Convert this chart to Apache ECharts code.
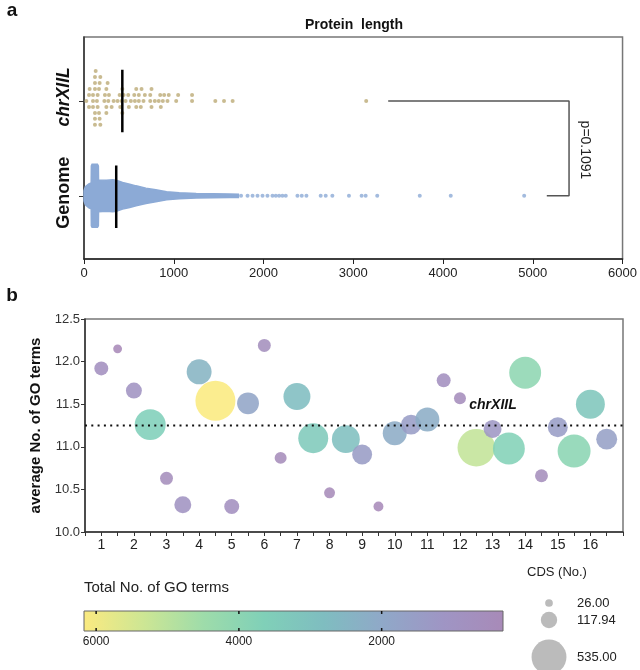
<!DOCTYPE html>
<html>
<head>
<meta charset="utf-8">
<script src="https://cdn.jsdelivr.net/npm/echarts@6/dist/echarts.min.js"></script>
<style>
  html, body { margin: 0; padding: 0; background: #fff; }
  #chart { width: 640px; height: 670px; }
</style>
</head>
<body>
<div id="chart"></div>
<script>
// ---- panel a: protein length ----
const lengthTicks = [0, 1000, 2000, 3000, 4000, 5000, 6000];
// chrXIIL protein lengths (aa), one per dot
const chrLengths = [
  122, 182, 122, 167, 167, 249, 308,
  26, 100, 152, 249, 427, 582, 633, 752, 833,
  63, 100, 144, 249, 427, 500, 560, 663, 738, 878, 944,
  56, 100, 152, 227, 278, 330, 397, 441, 611, 678, 738, 789, 849, 893, 1027,
  122, 174, 233, 374, 419, 463, 522, 567, 611, 752, 856, 930, 1049,
  56, 122, 263, 404, 493, 582, 641,
  122, 174, 271, 122, 130, 182,
  1204, 1204, 1463, 1560, 1656, 3144
];
const chrMedian = 427;
const genomeMedian = 359;
// outline of the dense genome swarm: length (aa) and half spread (y units)
const genomeEnvLen = [0, 15, 55, 80, 82, 90, 150, 160, 162, 250, 320, 360, 430, 510, 580, 690, 800, 920, 1060, 1250, 1620, 1720];
const genomeEnvHalf = [0.053, 0.095, 0.126, 0.137, 0.316, 0.332, 0.332, 0.316, 0.168, 0.163, 0.168, 0.163, 0.14, 0.123, 0.105, 0.081, 0.063, 0.042, 0.032, 0.024, 0.019, 0.017];
// sparse genome proteins in the long tail
const genomeTail = [1750, 1822, 1878, 1933, 1989, 2044, 2100, 2137, 2174, 2211, 2248, 2378, 2426, 2478, 2637, 2693, 2767, 2952, 3093, 3138, 3267, 3741, 4086, 4904];
const bracketLen = [3389, 5404, 5156];
const pText = 'p=0.1091';

// ---- panel b: GO terms per chromosome arm ----
const chrLabels = ['1', '2', '3', '4', '5', '6', '7', '8', '9', '10', '11', '12', '13', '14', '15', '16'];
const armPos = [1, 1.5, 2, 2.5, 3, 3.5, 4, 4.5, 5, 5.5, 6, 6.5, 7, 7.5, 8, 8.5,
  9, 9.5, 10, 10.5, 11, 11.5, 12, 12.5, 13, 13.5, 14, 14.5, 15, 15.5, 16, 16.5];
const avgGO = [11.92, 12.15, 11.66, 11.26, 10.63, 10.32, 11.88, 11.54, 10.30, 11.51, 12.19, 10.87, 11.59, 11.10, 10.46, 11.09,
  10.91, 10.30, 11.16, 11.26, 11.32, 11.78, 11.57, 10.99, 11.21, 10.98, 11.87, 10.66, 11.23, 10.95, 11.50, 11.09];
const cdsCount = [65, 26, 85, 320, 56, 96, 208, 535, 75, 160, 56, 48, 243, 300, 40, 260,
  133, 33, 192, 133, 192, 65, 48, 470, 108, 340, 340, 56, 133, 363, 280, 147];
const totalGO = [775, 316, 990, 3600, 595, 990, 2470, 6170, 770, 1840, 680, 520, 2820, 3330, 420, 2890,
  1450, 340, 2140, 1500, 2170, 770, 555, 5160, 1210, 3730, 4040, 600, 1490, 3970, 3220, 1630];
const genomeAvgGO = 11.25;
const colorTicks = [6000, 4000, 2000];
const sizeTicks = [26, 117.94, 535];

const FONT = '"Liberation Sans", Arial, sans-serif';
const colorMin = 300, colorMax = 6170;
const palette = ['#a88ab8', '#9f95c4', '#90a8c8', '#7fbdc0', '#80d0b8', '#9edcaa', '#cde694', '#fbea80'];
const sizeOf = n => 1.73 * Math.sqrt(n);
const legendSizeOf = n => 1.51 * Math.sqrt(n);

// simple beeswarm: stack dots into rows so they do not overlap
function swarm(values, center, w, step) {
  const rows = {};
  const out = [];
  values.slice().sort((a, b) => a - b).forEach(v => {
    for (let k = 0; ; k++) {
      const r = k === 0 ? 0 : (k % 2 ? (k + 1) / 2 : -k / 2);
      const list = rows[r] || (rows[r] = []);
      if (list.every(u => Math.abs(u - v) >= w)) {
        list.push(v);
        out.push([v, center + r * step]);
        break;
      }
    }
  });
  return out;
}

const chart = echarts.init(document.getElementById('chart'));

// colour bar + size legend
const barL = 84, barR = 503, barT = 611, barB = 631;
const toBarX = v => barL + (colorMax - v) / (colorMax - colorMin) * (barR - barL);
const stops = palette.map((c, i) => ({ offset: 1 - i / (palette.length - 1), color: c })).reverse();
const legendGraphics = [
  { type: 'text', x: 84, y: 588, style: { text: 'Total No. of GO terms', font: '15px ' + FONT, fill: '#222', verticalAlign: 'middle' } },
  { type: 'rect', shape: { x: barL, y: barT, width: barR - barL, height: barB - barT },
    style: { fill: new echarts.graphic.LinearGradient(0, 0, 1, 0, stops), stroke: '#666', lineWidth: 1 } }
];
colorTicks.forEach(v => {
  const x = toBarX(v);
  legendGraphics.push({ type: 'line', shape: { x1: x, y1: barT, x2: x, y2: barT + 3 }, style: { stroke: '#111', lineWidth: 1.5 } });
  legendGraphics.push({ type: 'line', shape: { x1: x, y1: barB - 3, x2: x, y2: barB }, style: { stroke: '#111', lineWidth: 1.5 } });
  legendGraphics.push({ type: 'text', x: x, y: 642, style: { text: String(v), font: '12px ' + FONT, fill: '#222', align: 'center', verticalAlign: 'middle' } });
});
legendGraphics.push({ type: 'text', x: 527, y: 572, style: { text: 'CDS (No.)', font: '13px ' + FONT, fill: '#222', verticalAlign: 'middle' } });
const sizeRowY = [603, 620, 657];
sizeTicks.forEach((n, i) => {
  legendGraphics.push({ type: 'circle', shape: { cx: 549, cy: sizeRowY[i], r: legendSizeOf(n) / 2 }, style: { fill: '#bbbbbb' } });
  legendGraphics.push({ type: 'text', x: 577, y: sizeRowY[i], style: { text: n.toFixed(2), font: '13px ' + FONT, fill: '#222', verticalAlign: 'middle' } });
});

const option = {
  animation: false,
  textStyle: { fontFamily: FONT },
  grid: [
    { left: 84, right: 16, top: 37, height: 222, show: true, borderColor: '#777', borderWidth: 1.5 },
    { left: 85, right: 17, top: 319, height: 213, show: true, borderColor: '#777', borderWidth: 1.5 }
  ],
  xAxis: [
    {
      type: 'value', gridIndex: 0, min: lengthTicks[0], max: lengthTicks[lengthTicks.length - 1], interval: 1000,
      axisLine: { onZero: false, lineStyle: { color: '#222', width: 1.5 } },
      axisTick: { length: 5, lineStyle: { color: '#222' } },
      axisLabel: { color: '#222', fontSize: 13, margin: 8, formatter: v => String(v) },
      splitLine: { show: false }
    },
    {
      type: 'value', gridIndex: 1, min: 0.5, max: 17, interval: 0.5,
      axisLine: { onZero: false, lineStyle: { color: '#333', width: 1.5 } },
      axisTick: { length: 4, lineStyle: { color: '#333' } },
      axisLabel: {
        color: '#222', fontSize: 14, margin: 6, interval: 0, showMinLabel: true, showMaxLabel: true,
        formatter: v => (Number.isInteger(v) && v >= 1 && v <= chrLabels.length) ? chrLabels[v - 1] : ''
      },
      splitLine: { show: false }
    }
  ],
  yAxis: [
    {
      type: 'value', gridIndex: 0, min: -0.666, max: 1.674,
      axisLine: { show: true, onZero: false, lineStyle: { color: '#333', width: 1.5 } },
      axisTick: { show: true, length: 5, customValues: [0, 1], lineStyle: { color: '#333' } },
      axisLabel: {
        customValues: [0, 1], rotate: 90, margin: 11, color: '#111',
        formatter: v => v === 1 ? '{i|chrXIIL}' : '{n|Genome}',
        rich: {
          i: { fontStyle: 'italic', fontWeight: 'bold', fontSize: 17.5, fontFamily: FONT, color: '#111', padding: [0, 0, 0, 8] },
          n: { fontWeight: 'bold', fontSize: 18, fontFamily: FONT, color: '#111', padding: [0, 0, 0, 6] }
        }
      },
      splitLine: { show: false }
    },
    {
      type: 'value', gridIndex: 1, min: 10, max: 12.5, interval: 0.5,
      name: 'average No. of GO terms', nameLocation: 'middle', nameGap: 42,
      nameTextStyle: { fontWeight: 'bold', fontSize: 15, color: '#111' },
      axisLine: { show: true, onZero: false, lineStyle: { color: '#333', width: 1.5 } },
      axisTick: { show: true, length: 4, lineStyle: { color: '#333' } },
      axisLabel: { color: '#333', fontSize: 13, margin: 5, formatter: v => v.toFixed(1) },
      splitLine: { show: false }
    }
  ],
  visualMap: {
    show: false, type: 'continuous', seriesIndex: 7, dimension: 3,
    min: colorMin, max: colorMax, inRange: { color: palette }
  },
  series: [
    {
      type: 'scatter', xAxisIndex: 0, yAxisIndex: 0, symbolSize: 4,
      itemStyle: { color: '#bcaa76' },
      data: swarm(chrLengths, 1, 44, 0.063)
    },
    {
      type: 'custom', xAxisIndex: 0, yAxisIndex: 0, data: [[0, 0]],
      renderItem: function (params, api) {
        const top = genomeEnvLen.map((v, i) => api.coord([v, genomeEnvHalf[i]]));
        const bottom = genomeEnvLen.map((v, i) => api.coord([v, -genomeEnvHalf[i]])).reverse();
        return {
          type: 'polygon', shape: { points: top.concat(bottom), smooth: 0 },
          style: { fill: '#8caad6', stroke: '#8caad6', lineWidth: 1.5 }
        };
      }
    },
    {
      type: 'scatter', xAxisIndex: 0, yAxisIndex: 0, symbolSize: 4,
      itemStyle: { color: '#8caad6' },
      data: genomeTail.map(v => [v, 0])
    },
    {
      type: 'line', xAxisIndex: 0, yAxisIndex: 0, symbol: 'none', z: 4,
      lineStyle: { color: '#000', width: 2.5 },
      data: [[chrMedian, 0.67], [chrMedian, 1.33]]
    },
    {
      type: 'line', xAxisIndex: 0, yAxisIndex: 0, symbol: 'none', z: 4,
      lineStyle: { color: '#000', width: 2.5 },
      data: [[genomeMedian, -0.34], [genomeMedian, 0.32]]
    },
    {
      type: 'line', xAxisIndex: 0, yAxisIndex: 0, symbol: 'none',
      lineStyle: { color: '#555', width: 1.5 },
      data: [[bracketLen[0], 1], [bracketLen[1], 1], [bracketLen[1], 0], [bracketLen[2], 0]]
    },
    {
      type: 'line', xAxisIndex: 1, yAxisIndex: 1, symbol: 'none', z: 5,
      lineStyle: { color: '#111', width: 2.2, type: [2, 4.3] },
      data: [[0.5, genomeAvgGO], [17, genomeAvgGO]]
    },
    {
      type: 'scatter', xAxisIndex: 1, yAxisIndex: 1, z: 3,
      symbolSize: d => sizeOf(d[2]),
      itemStyle: { opacity: 0.88 },
      data: armPos.map((x, i) => [x, avgGO[i], cdsCount[i], totalGO[i]])
    }
  ],
  graphic: [
    { type: 'text', x: 12, y: 11, style: { text: 'a', font: 'bold 19px ' + FONT, fill: '#111', align: 'center', verticalAlign: 'middle' } },
    { type: 'text', x: 12, y: 296, style: { text: 'b', font: 'bold 19px ' + FONT, fill: '#111', align: 'center', verticalAlign: 'middle' } },
    { type: 'text', x: 354, y: 25, style: { text: 'Protein  length', font: 'bold 14px ' + FONT, fill: '#111', align: 'center', verticalAlign: 'middle' } },
    { type: 'text', x: 585, y: 150, rotation: -Math.PI / 2, style: { text: pText, font: '14px ' + FONT, fill: '#222', align: 'center', verticalAlign: 'middle' } },
    { type: 'text', x: 493, y: 405, z: 10, style: { text: 'chrXIIL', font: 'italic bold 14px ' + FONT, fill: '#111', align: 'center', verticalAlign: 'middle' } }
  ].concat(legendGraphics)
};

chart.setOption(option);
</script>
</body>
</html>
